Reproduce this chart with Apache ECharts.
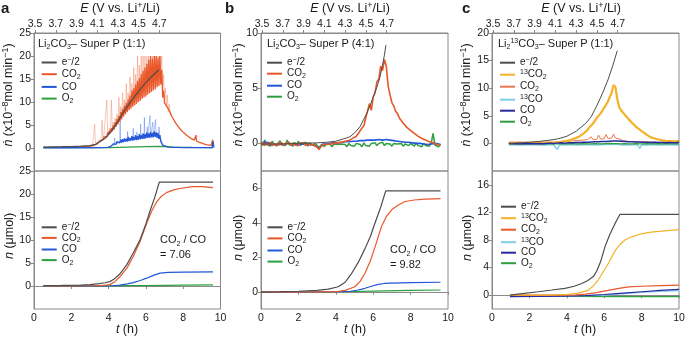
<!DOCTYPE html>
<html>
<head>
<meta charset="utf-8">
<script src="https://cdn.jsdelivr.net/npm/echarts@6/dist/echarts.min.js"></script>
<style>
  html, body { margin: 0; padding: 0; background: #fff; }
  #chart { width: 685px; height: 337px; }
</style>
</head>
<body>
<div id="chart"></div>
<script>
// ---- axis ticks ----
const E_TICKS = [3.5, 3.7, 3.9, 4.1, 4.3, 4.5, 4.7]
const T_TICKS = [0, 2, 4, 6, 8, 10]
const Y_TICKS = [[0, 5, 10, 15, 20, 25], [0, 5, 10, 15, 20, 25], [0, 5, 10], [0, 2, 4, 6], [0, 5, 10, 15, 20], [0, 4, 8, 12, 16]]
const Y_RANGE = [[-5, 25], [-5, 25], [-2.5, 10], [-1, 7], [-5, 20], [-2, 18]]

// pairs a regular time grid with values
const seq = (t0, step, vals) => vals.map((v, i) => [+(t0 + i * step).toFixed(2), v])

// ---- a, rate (x10^-8 mol/min) ----
const aRateE = [[0.5, 0.2], [1, 0.25], [1.5, 0.28], [2, 0.32], [2.5, 0.4], [3, 0.5], [3.3, 0.8], [3.6, 1.5], [3.9, 2.4], [4.2, 4.0], [4.5, 5.8], [4.8, 7.8], [5.1, 9.6], [5.4, 11.2], [5.7, 12.8], [6.0, 14.2], [6.3, 15.5], [6.7, 17.0]]
const aRateCO2 = [
  [0.5, 0.15], [1, 0.15], [1.5, 0.18], [2, 0.2], [2.5, 0.25], [2.95, 0.35],
  ...seq(3.0, 0.05, [
    0.4, 0.5, 0.45, 0.6, 0.7, 0.65, 0.9, 1.0, 0.9, 1.3,
    1.2, 1.6, 1.5, 2.0, 1.8, 2.4, 2.2, 2.8, 2.5, 3.4,
    2.9, 3.8, 3.2, 4.3, 3.6, 4.9, 4.0, 5.6, 4.6, 6.3,
    5.1, 7.0, 5.7, 7.8, 6.2, 8.5, 6.8, 9.2, 7.3, 9.8,
    7.8, 10.6, 8.2, 11.4, 8.6, 12.5, 9.0, 13.0, 9.3, 13.8,
    9.6, 14.6, 10.0, 15.2, 10.3, 16.1, 10.7, 16.8, 11.0, 17.5,
    11.2, 18.3, 11.6, 19.2, 11.9, 20.0, 12.2, 19.4, 12.5, 20.0,
    12.8, 20.0, 13.2, 19.6, 13.5, 20.0, 13.8, 17.0, 11.0, 12.5,
    9.8]),
  [7.1, 9.6], [7.25, 8.2], [7.4, 6.8], [7.6, 5.4], [7.8, 4.3], [8.0, 3.4], [8.2, 2.7], [8.4, 2.1], [8.6, 1.7],
  [8.68, 2.8], [8.72, 1.5], [8.9, 1.2], [9.1, 0.9], [9.3, 0.7], [9.5, 0.6], [9.58, 1.8], [9.62, 0.6]
]
const aRateCO2Raw = seq(3.0, 0.05, [
  0.5, 0.6, 0.5, 0.8, 0.7, 5.2, 1.0, 1.2, 1.1, 1.6,
  1.5, 2.0, 1.8, 6.0, 2.1, 2.8, 2.5, 3.2, 10.4, 3.8,
  3.2, 4.3, 3.6, 10.4, 4.0, 5.6, 4.4, 6.5, 5.0, 7.4,
  5.5, 11.0, 6.2, 9.0, 6.8, 12.0, 7.2, 10.5, 7.8, 14.0,
  8.2, 12.0, 8.6, 15.5, 9.0, 14.0, 9.4, 17.5, 9.7, 16.0,
  10.0, 20.0, 10.4, 18.0, 10.8, 20.0, 11.0, 20.0, 11.4, 20.0,
  11.6, 20.0, 12.0, 20.0, 12.3, 20.0, 12.6, 20.0, 13.0, 20.0,
  13.3, 20.0, 13.6, 20.0, 14.0, 20.0, 14.2, 20.0, 12.0, 16.0,
  10.0, 13.0, 9.0, 11.5, 7.8, 9.5, 7.0])
const aRateCO = [
  [0.5, 0.05], [2, 0.05], [3.5, 0.1], [3.95, 0.15],
  ...seq(4.0, 0.05, [
    0.2, 0.4, 0.3, 0.6, 0.4, 0.9, 0.6, 1.2, 0.8, 1.4,
    1.0, 1.5, 1.1, 1.8, 1.2, 1.9, 1.3, 2.1, 1.4, 2.0,
    1.4, 2.4, 1.5, 2.2, 1.6, 2.6, 1.6, 2.4, 1.7, 2.8,
    1.7, 2.6, 1.8, 3.0, 1.9, 2.8, 2.0, 3.2, 2.0, 3.0,
    2.1, 3.4, 2.2, 3.2, 2.2, 3.5, 2.3, 3.3, 2.3, 3.6,
    2.4, 3.4, 2.2, 3.3, 2.0, 2.8, 1.4, 1.0, 0.6, 0.4,
    0.3]),
  [7.2, 0.2], [8, 0.1], [9, 0.08], [9.55, 0.1], [9.6, 1.4], [9.65, 0.1]
]
const aRateCORaw = [[4.0, 0.3], [4.3, 0.6], [4.32, 2.2], [4.35, 0.8], [4.6, 1.2], [4.62, 7.0], [4.64, 1.2], [5.0, 1.6], [5.02, 3.6], [5.04, 1.6], [5.3, 1.8], [5.32, 4.3], [5.34, 1.8], [5.5, 2.0], [5.52, 3.5], [5.55, 2.0], [5.7, 2.2], [5.72, 5.2], [5.74, 2.2], [5.9, 2.4], [5.92, 6.6], [5.94, 2.4], [6.05, 2.5], [6.07, 4.6], [6.1, 2.5], [6.2, 2.6], [6.22, 7.0], [6.25, 2.6], [6.35, 2.7], [6.37, 5.6], [6.4, 2.7], [6.5, 2.8], [6.52, 6.2], [6.55, 2.8], [6.68, 2.6], [6.7, 4.6], [6.75, 2.4], [6.9, 0.8], [7.0, 0.3]]
const aRateO2 = [[0.5, 0.05], [2, 0.05], [4, 0.1], [5, 0.2], [6, 0.3], [6.7, 0.35], [7.5, 0.2], [8.5, 0.12], [9.6, 0.1]]

// ---- a, cumulative (umol) ----
const aSumE = [[0.5, 0.1], [1.5, 0.12], [2.5, 0.2], [3.0, 0.3], [3.5, 0.5], [3.8, 0.7], [4.07, 0.95], [4.3, 1.5], [4.6, 2.6], [4.97, 4.6], [5.3, 7.0], [5.68, 10.0], [6.0, 13.5], [6.22, 16.3], [6.5, 19.6], [6.72, 22.6], [9.6, 22.6]]
const aSumCO2 = [[0.5, 0.0], [2, 0.0], [3, 0.05], [3.6, 0.1], [4.07, 0.3], [4.35, 1.0], [4.61, 2.0], [5.0, 4.0], [5.32, 6.4], [5.7, 9.8], [6.04, 13.6], [6.3, 16.2], [6.58, 18.3], [6.8, 19.4], [7.1, 20.3], [7.5, 20.9], [7.8, 21.2], [8.5, 21.6], [9.0, 21.6], [9.6, 21.4]]
const aSumCO = [[0.5, 0], [3.5, 0], [4.2, 0.05], [4.6, 0.2], [5.0, 0.45], [5.32, 0.75], [5.7, 1.2], [6.04, 1.7], [6.4, 2.3], [6.76, 2.8], [7.2, 2.95], [8, 3.0], [9.6, 3.05]]
const aSumO2 = [[0.5, 0], [3, 0], [4, 0.03], [5, 0.06], [6, 0.1], [7, 0.15], [8, 0.2], [9.6, 0.25]]

// ---- b, rate ----
const bRateE = [[0, -0.05], [1, -0.05], [2, 0], [3, 0.05], [3.5, 0.1], [4, 0.2], [4.4, 0.4], [4.76, 0.6], [5.0, 0.95], [5.29, 1.5], [5.5, 2.2], [5.65, 2.7], [5.85, 3.5], [6.0, 4.2], [6.2, 5.1], [6.36, 6.0], [6.5, 7.1], [6.6, 8.0], [6.68, 8.9]]
const bRateCO2 = seq(0, 0.1, [
  -0.1, 0.1, -0.2, 0.05, -0.15, 0.1, -0.2, 0.0, -0.25, 0.05,
  -0.15, 0.1, -0.2, 0.0, -0.1, 0.1, -0.2, 0.05, -0.15, 0.0,
  -0.2, 0.05, -0.1, 0.0, -0.2, 0.05, -0.15, 0.0, -0.1, -0.2,
  -0.35, -0.55, -0.3, -0.1, 0.0, -0.1, 0.05, -0.05, 0.1, 0.0,
  0.1, 0.05, 0.15, 0.1, 0.2, 0.2, 0.3, 0.25, 0.4, 0.45,
  0.6, 0.65, 0.9, 0.95, 1.4, 1.6, 2.3, 2.2, 3.6, 3.0,
  4.2, 4.6, 5.6, 5.8, 7.0, 6.6, 7.6, 7.0, 5.2, 4.4,
  3.7, 3.4, 2.9, 2.7, 2.3, 2.2, 1.85, 1.75, 1.45, 1.4,
  1.15, 1.1, 0.9, 0.85, 0.65, 0.7, 0.45, 0.45, 0.3, 0.35,
  0.15, 0.2, 0.05, 0.05, -0.1, 0.0, -0.15])
const bRateCO = seq(0, 0.1, [
  0.05, -0.1, 0.1, -0.05, 0.08, -0.12, 0.05, -0.08, 0.1, -0.1,
  0.05, -0.05, 0.1, -0.1, 0.0, 0.08, -0.12, 0.05, -0.05, 0.1,
  -0.1, 0.05, -0.08, 0.1, -0.05, 0.0, -0.1, 0.05, -0.15, -0.2,
  -0.3, -0.5, -0.25, -0.05, 0.05, -0.05, 0.1, 0.0, 0.1, 0.05,
  0.15, 0.05, 0.2, 0.1, 0.2, 0.15, 0.25, 0.15, 0.3, 0.2,
  0.3, 0.2, 0.35, 0.25, 0.35, 0.25, 0.4, 0.3, 0.4, 0.3,
  0.45, 0.3, 0.4, 0.35, 0.5, 0.3, 0.45, 0.35, 0.4, 0.3,
  0.35, 0.25, 0.3, 0.2, 0.3, 0.15, 0.25, 0.1, 0.2, 0.1,
  0.15, 0.05, 0.1, 0.0, 0.1, 0.0, 0.05, -0.05, 0.05, -0.1,
  0.0, -0.05, -0.1, 0.0, -0.15, -0.05, -0.1])
const bRateO2 = seq(0, 0.1, [
  0.1, -0.2, 0.3, -0.1, 0.0, -0.25, 0.2, -0.1, 0.05, -0.2,
  0.25, -0.15, 0.0, -0.2, 0.3, -0.1, -0.05, -0.25, 0.1, -0.15,
  0.2, -0.2, 0.0, -0.15, 0.1, -0.25, 0.05, -0.1, -0.2, 0.0,
  -0.2, -0.4, -0.15, -0.1, -0.25, -0.05, -0.2, -0.1, -0.3, -0.05,
  -0.2, -0.1, -0.25, -0.05, -0.2, -0.1, -0.3, 0.0, -0.2, -0.1,
  -0.25, 0.0, -0.15, -0.1, -0.3, 0.05, -0.2, -0.05, -0.25, 0.0,
  -0.15, 0.05, -0.2, 0.0, -0.1, 0.1, -0.2, 0.0, -0.15, -0.05,
  -0.25, 0.0, -0.15, -0.05, -0.2, 0.0, -0.25, -0.05, -0.1, -0.2,
  0.0, -0.15, -0.25, 0.05, -0.2, -0.1, -0.3, 0.0, -0.2, -0.1,
  -0.25, 0.0, 0.9, -0.15, -0.05, -0.3, -0.1])

// ---- b, cumulative ----
const bSumE = [[0, -0.02], [1, 0.0], [2, 0.03], [3, 0.08], [3.6, 0.15], [4.13, 0.29], [4.5, 0.55], [4.85, 1.07], [5.2, 1.7], [5.56, 2.5], [5.85, 3.2], [6.1, 4.0], [6.4, 4.9], [6.67, 5.85], [9.6, 5.85]]
const bSumCO2 = [[0, -0.02], [3, -0.01], [4, 0.0], [4.5, 0.08], [5.02, 0.29], [5.3, 0.6], [5.56, 1.07], [5.85, 1.8], [6.1, 2.6], [6.3, 3.3], [6.45, 3.8], [6.7, 4.35], [6.99, 4.75], [7.3, 5.0], [7.7, 5.23], [8.2, 5.32], [8.77, 5.37], [9.6, 5.4]]
const bSumCO = [[0, -0.02], [4, 0.0], [4.8, 0.03], [5.2, 0.1], [5.56, 0.2], [5.9, 0.32], [6.27, 0.43], [6.6, 0.48], [6.99, 0.5], [8, 0.53], [9.6, 0.55]]
const bSumO2 = [[0, -0.02], [4, 0.0], [6, 0.04], [8, 0.08], [9.6, 0.1]]

// ---- c, rate ----
const cRateE = [[0.9, 0], [1.5, 0.1], [2, 0.2], [2.5, 0.35], [3, 0.55], [3.5, 0.8], [4, 1.3], [4.5, 2.2], [5, 3.6], [5.3, 4.8], [5.6, 6.8], [5.9, 9.0], [6.2, 11.5], [6.45, 14.0], [6.7, 16.8]]
const cRate13CO2 = seq(0.9, 0.1, [
  0.1, 0.2, 0.0, 0.15, 0.05, 0.2, 0.1, 0.15, 0.05, 0.2, 0.1,
  0.2, 0.05, 0.15, 0.1, 0.2, 0.05, 0.2, 0.1, 0.15, 0.1,
  0.2, 0.15, 0.25, 0.15, 0.3, 0.2, 0.35, 0.3, 0.45, 0.4,
  0.55, 0.5, 0.7, 0.75, 0.9, 1.0, 1.2, 1.3, 1.6, 1.8,
  2.1, 2.4, 2.9, 3.2, 3.6, 3.8, 4.6, 4.9, 5.4, 5.9,
  6.5, 7.0, 7.6, 8.4, 9.2, 10.6, 10.2, 8.0, 6.6, 6.0,
  5.7, 5.2, 4.9, 4.4, 4.1, 3.7, 3.4, 3.0, 2.9, 2.5,
  2.3, 2.0, 1.8, 1.5, 1.4, 1.1, 1.1, 0.9, 0.85, 0.7,
  0.7, 0.55, 0.55, 0.45, 0.45, 0.4, 0.4, 0.35, 0.35, 0.4, 0.35])
const cRateCO2 = seq(0.9, 0.1, [
  0.2, 0.1, 0.25, 0.1, 0.2, 0.15, 0.25, 0.1, 0.2, 0.15, 0.25,
  0.1, 0.2, 0.15, 0.25, 0.1, 0.2, 0.15, 0.25, 0.1, 0.2,
  0.15, 0.25, 0.15, 0.2, 0.2, 0.3, 0.2, 0.3, 0.25, 0.35,
  0.3, 0.4, 0.3, 0.45, 0.35, 0.5, 0.4, 0.55, 0.5, 0.6,
  0.55, 0.7, 0.6, 1.2, 0.7, 0.85, 0.75, 1.5, 0.8, 1.0,
  0.85, 1.6, 0.9, 1.1, 0.95, 1.7, 1.0, 1.2, 0.8, 0.6,
  0.5, 0.45, 0.4, 0.4, 0.35, 0.35, 0.3, 0.3, 0.3, 0.25,
  0.3, 0.25, 0.25, 0.2, 0.25, 0.2, 0.25, 0.2, 0.2, 0.15,
  0.2, 0.15, 0.2, 0.15, 0.2, 0.1, 0.2, 0.15, 0.2, 0.1, 0.15])
const cRate13CO = seq(0.9, 0.1, [
  -0.3, -0.5, -0.2, -0.45, -0.3, -0.6, -0.25, -0.4, -0.3, -0.55, -0.2,
  -0.4, -0.3, -0.5, -0.2, -0.45, -0.3, -0.6, -0.25, -0.4, -0.3,
  -0.5, -0.2, -0.45, -0.3, -0.55, -1.1, -0.3, -0.4, -0.25, -0.5,
  -0.3, -0.45, -0.2, -0.4, -0.3, -0.5, -0.25, -0.45, -0.3, -0.4,
  -0.2, -0.45, -0.3, -0.5, -0.2, -0.4, -0.3, -0.5, -0.25, -0.4,
  -0.2, -0.35, -0.15, -0.4, -0.2, -0.3, -0.1, -0.35, -0.2, -0.4,
  -0.3, -0.45, -0.25, -0.5, -0.3, -0.4, -0.2, -0.45, -0.3, -0.9,
  -0.3, -0.45, -0.25, -0.4, -0.3, -0.5, -0.2, -0.4, -0.3, -0.45,
  -0.25, -0.4, -0.3, -0.5, -0.2, -0.4, -0.3, -0.45, -0.25, -0.4, -0.3])
const cRateCO = seq(0.9, 0.1, [
  0.0, 0.1, -0.05, 0.1, 0.0, 0.15, -0.05, 0.1, 0.0, 0.1, -0.05,
  0.1, 0.0, 0.15, -0.05, 0.1, 0.0, 0.1, -0.05, 0.15, 0.0,
  0.1, 0.05, 0.15, 0.0, 0.2, 0.05, 0.15, 0.1, 0.2, 0.05,
  0.2, 0.1, 0.2, 0.1, 0.25, 0.15, 0.25, 0.15, 0.3, 0.2,
  0.3, 0.2, 0.35, 0.25, 0.35, 0.3, 0.4, 0.3, 0.45, 0.35,
  0.5, 0.35, 0.55, 0.4, 0.6, 0.45, 0.55, 0.45, 0.5, 0.4,
  0.45, 0.35, 0.4, 0.3, 0.4, 0.3, 0.35, 0.25, 0.35, 0.25,
  0.3, 0.2, 0.3, 0.2, 0.25, 0.15, 0.25, 0.2, 0.25, 0.15,
  0.2, 0.15, 0.25, 0.1, 0.2, 0.15, 0.2, 0.1, 0.2, 0.15, 0.2])
const cRateO2 = seq(0.9, 0.1, [
  -0.1, -0.2, -0.05, -0.25, -0.1, -0.2, -0.05, -0.3, -0.1, -0.2, -0.1,
  -0.2, -0.05, -0.25, -0.1, -0.2, -0.1, -0.3, -0.05, -0.2, -0.1,
  -0.25, -0.1, -0.2, -0.05, -0.3, -0.1, -0.2, -0.1, -0.25, -0.05,
  -0.2, -0.1, -0.25, -0.05, -0.2, -0.1, -0.3, -0.1, -0.2, -0.05,
  -0.2, -0.1, -0.25, -0.1, -0.2, -0.05, -0.25, -0.1, -0.2, -0.1,
  -0.15, -0.05, -0.2, 0.0, -0.15, -0.05, -0.2, -0.05, -0.15, -0.1,
  -0.2, -0.05, -0.25, -0.1, -0.2, -0.1, -0.3, -0.05, -0.2, -0.1,
  -0.25, -0.1, -0.2, -0.05, -0.25, -0.1, -0.2, -0.1, -0.3, -0.05,
  -0.2, -0.1, -0.25, -0.05, -0.2, -0.1, -0.25, -0.1, -0.2, -0.05, -0.15])

// ---- c, cumulative ----
const cSumE = [[0.96, 0], [1.5, 0.2], [2.48, 0.5], [3.2, 0.75], [3.9, 1.0], [4.4, 1.3], [4.8, 1.7], [5.1, 2.1], [5.42, 2.7], [5.6, 3.5], [5.8, 4.8], [6.04, 7.0], [6.3, 8.8], [6.6, 10.5], [6.84, 11.7], [10, 11.7]]
const cSum13CO2 = [[0.96, 0], [3, 0], [4, 0.1], [4.6, 0.3], [5.13, 0.7], [5.4, 1.3], [5.68, 2.2], [5.95, 3.4], [6.22, 4.6], [6.45, 5.8], [6.67, 6.8], [6.9, 7.5], [7.11, 8.0], [7.5, 8.5], [8.0, 8.9], [8.5, 9.15], [9.07, 9.3], [10, 9.5]]
const cSumCO2 = [[0.96, 0], [4, 0.0], [4.5, 0.05], [5, 0.15], [5.5, 0.35], [6.22, 0.7], [6.7, 0.95], [7.3, 1.2], [8, 1.3], [9, 1.4], [10, 1.45]]
const cSum13CO = [[0.96, -0.15], [4, -0.15], [6, 0.0], [7, 0.2], [8, 0.4], [9, 0.55], [10, 0.65]]
const cSumCO = [[0.96, -0.2], [4, -0.15], [5, -0.05], [6, 0.1], [7, 0.3], [8, 0.5], [9, 0.7], [10, 0.85]]
const cSumO2 = [[0.96, -0.15], [4, -0.18], [7, -0.2], [10, -0.2]]

// ---- style ----
const FONT = "'Liberation Sans', Arial, Helvetica, sans-serif"
const AXIS = '#8a8a8a'
const TXT = '#1a1a1a'
const C = {
  e: '#4d4d4d', co2: '#e8582a', co2Raw: 'rgba(238,125,85,0.42)', co: '#2356d8', coRaw: 'rgba(70,120,235,0.45)',
  o2: '#2f9e3f', c13o2: '#f2b229', c13o: '#82cdea', coDark: '#272a9c', co2Light: '#ec7550'
}

const rich = (fs, lh) => {
  const base = { fontFamily: FONT, color: TXT, fill: TXT }
  const small = Math.round(fs * 0.68)
  return {
    n: { ...base, fontSize: fs, lineHeight: lh },
    i: { ...base, fontSize: fs, lineHeight: lh, fontStyle: 'italic' },
    sub: { ...base, fontSize: small, lineHeight: lh / 2, verticalAlign: 'bottom' },
    sup: { ...base, fontSize: small, lineHeight: lh / 2, verticalAlign: 'top' }
  }
}

const LABEL = {
  e: '{n|e}{sup|−}{n|/2}',
  CO2: '{n|CO}{sub|2}',
  CO: '{n|CO}',
  O2: '{n|O}{sub|2}',
  '13CO2': '{sup|13}{n|CO}{sub|2}',
  '13CO': '{sup|13}{n|CO}'
}

// columns a, b, c
const COLS = [{ left: 34, width: 186.5 }, { left: 261, width: 187 }, { left: 492, width: 187 }]
const grids = []
COLS.forEach(c => {
  grids.push({ left: c.left, top: 33, width: c.width, height: 138 })
  grids.push({ left: c.left, top: 171, width: c.width, height: 138 })
})

const xAxes = grids.map((g, i) => {
  const bottom = i % 2 === 1
  return {
    type: 'value', gridIndex: i, min: 0, max: 10, interval: 2, position: 'bottom',
    axisLine: { show: bottom, lineStyle: { color: AXIS } },
    axisTick: { show: bottom, length: 3, lineStyle: { color: AXIS } },
    axisLabel: { show: bottom, margin: 4, fontSize: 10.5, color: TXT, fontFamily: FONT, customValues: T_TICKS },
    splitLine: { show: false }
  }
})
// top potential axis over each upper panel
;[0, 2, 4].forEach(gi => {
  xAxes.push({
    type: 'value', gridIndex: gi, position: 'top', min: 3.49, max: 5.29,
    axisLine: { show: true, lineStyle: { color: AXIS } },
    axisTick: { show: true, length: 3, customValues: E_TICKS, lineStyle: { color: AXIS } },
    axisLabel: { margin: 3, fontSize: 10.5, color: TXT, fontFamily: FONT, customValues: E_TICKS, formatter: v => v.toFixed(1) },
    splitLine: { show: false }
  })
})

const yAxes = grids.map((g, i) => ({
  type: 'value', gridIndex: i, min: Y_RANGE[i][0], max: Y_RANGE[i][1],
  axisLine: { show: true, lineStyle: { color: AXIS } },
  axisTick: { show: true, length: 3, customValues: Y_TICKS[i], lineStyle: { color: AXIS } },
  axisLabel: { margin: 3, fontSize: 10.5, color: TXT, fontFamily: FONT, customValues: Y_TICKS[i] },
  splitLine: { show: false }
}))

// [name, grid, data, color, width]
const SERIES = [
  ['a1:CO2raw', 0, aRateCO2Raw, C.co2Raw, 1],
  ['a1:COraw', 0, aRateCORaw, C.coRaw, 1],
  ['a1:O2', 0, aRateO2, C.o2, 1.2],
  ['a1:CO2', 0, aRateCO2, C.co2, 1.3],
  ['a1:CO', 0, aRateCO, C.co, 1.3],
  ['a1:e', 0, aRateE, C.e, 1.2],

  ['a2:O2', 1, aSumO2, C.o2, 1.2],
  ['a2:CO', 1, aSumCO, C.co, 1.2],
  ['a2:CO2', 1, aSumCO2, C.co2, 1.2],
  ['a2:e', 1, aSumE, C.e, 1.2],

  ['b1:O2', 2, bRateO2, C.o2, 1.5],
  ['b1:CO', 2, bRateCO, C.co, 1.6],
  ['b1:CO2', 2, bRateCO2, C.co2, 1.6],
  ['b1:e', 2, bRateE, C.e, 1],

  ['b2:O2', 3, bSumO2, C.o2, 1.2],
  ['b2:CO', 3, bSumCO, C.co, 1.2],
  ['b2:CO2', 3, bSumCO2, C.co2, 1.2],
  ['b2:e', 3, bSumE, C.e, 1.2],

  ['c1:13CO', 4, cRate13CO, C.c13o, 1.4],
  ['c1:O2', 4, cRateO2, C.o2, 1.2],
  ['c1:CO2', 4, cRateCO2, C.co2Light, 1],
  ['c1:13CO2', 4, cRate13CO2, C.c13o2, 2.2],
  ['c1:CO', 4, cRateCO, C.coDark, 1.5],
  ['c1:e', 4, cRateE, C.e, 1],

  ['c2:O2', 5, cSumO2, C.o2, 1.2],
  ['c2:13CO', 5, cSum13CO, C.c13o, 1.2],
  ['c2:CO', 5, cSumCO, C.coDark, 1.2],
  ['c2:CO2', 5, cSumCO2, C.co2, 1.2],
  ['c2:13CO2', 5, cSum13CO2, C.c13o2, 1.2],
  ['c2:e', 5, cSumE, C.e, 1.2]
]

const series = SERIES.map(([name, gi, data, color, width]) => ({
  name, type: 'line', xAxisIndex: gi, yAxisIndex: gi, data,
  symbol: 'none', showSymbol: false, animation: false,
  lineStyle: { color, width }, itemStyle: { color },
  emphasis: { disabled: true }
}))

const KEYS4 = ['e', 'CO2', 'CO', 'O2']
const KEYS6 = ['e', '13CO2', 'CO2', '13CO', 'CO', 'O2']
const LEGENDS = [
  { p: 'a1', left: 41.7, top: 56.5, gap: 1.7, keys: KEYS4 },
  { p: 'a2', left: 41.7, top: 221.3, gap: 0.6, keys: KEYS4 },
  { p: 'b1', left: 267, top: 56.7, gap: 1.0, keys: KEYS4 },
  { p: 'b2', left: 267.5, top: 221.3, gap: 1.1, keys: KEYS4 },
  { p: 'c1', left: 500, top: 56.7, gap: 1.0, keys: KEYS6 },
  { p: 'c2', left: 501, top: 200.7, gap: 0.5, keys: KEYS6 }
]
const legend = LEGENDS.map(l => ({
  orient: 'vertical', left: l.left, top: l.top, padding: 0, itemGap: l.gap,
  itemWidth: 15, itemHeight: 2, icon: 'rect', selectedMode: false,
  data: l.keys.map(k => l.p + ':' + k),
  formatter: name => LABEL[name.split(':')[1]],
  textStyle: { fontSize: 10, color: TXT, fontFamily: FONT, rich: rich(10, 12) }
}))

const text = (x, y, str, fs, lh, opts = {}) => ({
  type: 'text', x, y, rotation: opts.rotation || 0, silent: true,
  style: {
    text: str, rich: rich(fs, lh), fontFamily: FONT, fontSize: fs, fill: TXT,
    align: opts.align || 'left', verticalAlign: 'middle', fontWeight: opts.weight || 'normal'
  }
})

const Y_TITLE_TOP = '{i|ṅ}{n| (x10}{sup|−8}{n|mol min}{sup|−1}{n|)}'
const Y_TITLE_BOT = '{i|n}{n| (μmol)}'
const X_TITLE = '{i|t}{n| (h)}'
const E_TITLE = '{i|E}{n| (V vs. Li}{sup|+}{n|/Li)}'
const R = Math.PI / 2

const graphic = [
  { type: 'text', x: 1, y: 9, silent: true, style: { text: 'a', fontFamily: FONT, fontSize: 15, fontWeight: 'bold', fill: TXT, verticalAlign: 'middle' } },
  { type: 'text', x: 225, y: 9, silent: true, style: { text: 'b', fontFamily: FONT, fontSize: 15, fontWeight: 'bold', fill: TXT, verticalAlign: 'middle' } },
  { type: 'text', x: 462, y: 9, silent: true, style: { text: 'c', fontFamily: FONT, fontSize: 15, fontWeight: 'bold', fill: TXT, verticalAlign: 'middle' } },

  text(120, 9, E_TITLE, 12.5, 15, { align: 'center' }),
  text(350, 9, E_TITLE, 12.5, 15, { align: 'center' }),
  text(581, 9, E_TITLE, 12.5, 15, { align: 'center' }),

  text(38, 44, '{n|Li}{sub|2}{n|CO}{sub|3}{n|– Super P (1:1)}', 11, 13),
  text(267, 44, '{n|Li}{sub|2}{n|CO}{sub|3}{n|– Super P (4:1)}', 11, 13),
  text(498, 44, '{n|Li}{sub|2}{sup|13}{n|CO}{sub|3}{n|– Super P (1:1)}', 11, 13),

  text(160, 247.5, '{n|CO}{sub|2}{n| / CO}\n{n|= 7.06}', 11, 14.5),
  text(390, 257.5, '{n|CO}{sub|2}{n| / CO}\n{n|= 9.82}', 11, 14.5),

  text(9, 95, Y_TITLE_TOP, 12.5, 15, { align: 'center', rotation: R }),
  text(10, 236, Y_TITLE_BOT, 12.5, 15, { align: 'center', rotation: R }),
  text(239, 95, Y_TITLE_TOP, 12.5, 15, { align: 'center', rotation: R }),
  text(239, 238, Y_TITLE_BOT, 12.5, 15, { align: 'center', rotation: R }),
  text(467, 95, Y_TITLE_TOP, 12.5, 15, { align: 'center', rotation: R }),
  text(468, 238, Y_TITLE_BOT, 12.5, 15, { align: 'center', rotation: R }),

  text(127, 330, X_TITLE, 12.5, 15, { align: 'center' }),
  text(355, 330, X_TITLE, 12.5, 15, { align: 'center' }),
  text(585, 330, X_TITLE, 12.5, 15, { align: 'center' })
]

const chart = echarts.init(document.getElementById('chart'), null, { renderer: 'canvas' })
chart.setOption({
  animation: false,
  backgroundColor: '#fff',
  textStyle: { fontFamily: FONT },
  grid: grids.map(g => ({ ...g, show: true, borderColor: AXIS, borderWidth: 1, backgroundColor: 'transparent', containLabel: false, outerBoundsMode: 'none' })),
  xAxis: xAxes,
  yAxis: yAxes,
  legend,
  graphic,
  series
})
</script>
</body>
</html>
